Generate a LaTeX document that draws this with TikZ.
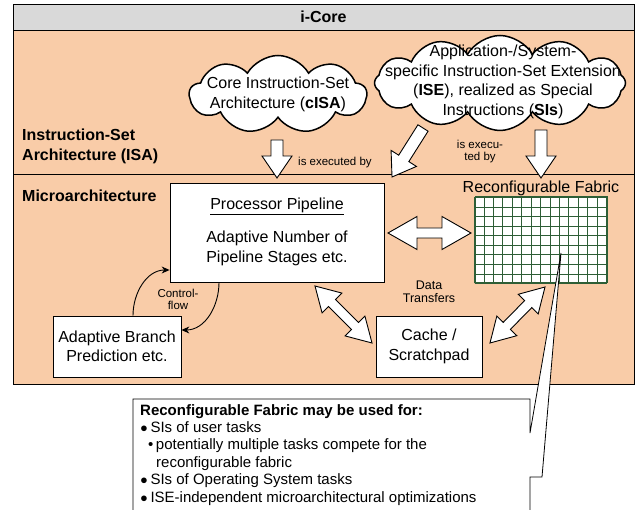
\documentclass[tikz,border=0pt]{standalone}
\usepackage{fontspec}
\setmainfont{Liberation Sans}
\usepackage{tikz}
\usetikzlibrary{positioning,arrows.meta,shapes.symbols,calc}
\definecolor{peach}{HTML}{F9CCA8}
\definecolor{hdrgray}{HTML}{D9D9D9}
\definecolor{gridgreen}{HTML}{2E5E36}
% outlined block arrow, tail #1 -> tip #2
\newcommand{\blkarrow}[2]{%
  \coordinate (bh) at ($(#2)!22pt!(#1)$);
  \draw[blk] ($(#1)!6pt!90:(#2)$) -- ($(bh)!6pt!90:(#2)$)
    -- ($(bh)!15pt!90:(#2)$) -- (#2) -- ($(bh)!15pt!-90:(#2)$)
    -- ($(bh)!6pt!-90:(#2)$) -- ($(#1)!6pt!-90:(#2)$) -- cycle;}
% outlined double block arrow #1 <-> #2 (head length, head half width, shaft half width)
\newcommand{\dblarrow}[5]{%
  \coordinate (ha) at ($(#1)!#3pt!(#2)$);
  \coordinate (hb) at ($(#2)!#3pt!(#1)$);
  \draw[blk] (#1) -- ($(ha)!#4pt!90:(#2)$) -- ($(ha)!#5pt!90:(#2)$)
    -- ($(hb)!#5pt!-90:(#1)$) -- ($(hb)!#4pt!-90:(#1)$) -- (#2)
    -- ($(hb)!#4pt!90:(#1)$) -- ($(hb)!#5pt!90:(#1)$)
    -- ($(ha)!#5pt!-90:(#2)$) -- ($(ha)!#4pt!-90:(#2)$) -- cycle;}
\newcommand{\bigdot}{{\fontsize{13}{13}\selectfont●}}
\begin{document}
\begin{tikzpicture}[x=1pt,y=1pt,font=\fontsize{16}{19.5}\selectfont,
  every node/.style={inner sep=0pt},
  box/.style={draw,line width=0.8pt,fill=white},
  blk/.style={draw,line width=0.9pt,fill=white,line join=miter},
  bubble/.style={cloud,draw,line width=1.5pt,fill=white,cloud ignores aspect,cloud puff arc=120},
  cf/.style={-{Stealth[length=8pt,width=7pt]},line width=0.9pt},
  small/.style={font=\fontsize{11.5}{12}\selectfont},
  bhead/.style={font=\fontsize{16}{19.5}\selectfont\bfseries}]
\clip (0,0) rectangle (637,-510);
\fill[white] (0,0) rectangle (637,-510);
% ---- i-Core frame: header, ISA layer, microarchitecture layer ----
\draw[line width=0.8pt,fill=hdrgray] (13,-4) rectangle (634,-30);
\draw[line width=0.8pt,fill=peach] (13,-30) rectangle (634,-174);
\draw[line width=0.8pt,fill=peach] (13,-174) rectangle (634,-384);
\node[bhead] (icore) at (323.5,-17) {i-Core};
\node[bhead,anchor=west,align=left] (isa) at (22,-146.5) {Instruction-Set\\Architecture (ISA)};
\node[bhead,anchor=west] (uarch) at (22,-196) {Microarchitecture};
% ---- instruction sets (clouds) ----
\node[bubble,cloud puffs=9,minimum width=177,minimum height=78] (cisa) at (278,-94.5) {};
\node[align=center] (cisatxt) at (cisa) {Core Instruction-Set\\Architecture (\textbf{cISA})};
\node[bubble,cloud puffs=12,minimum width=251,minimum height=95] (ise) at (500,-83) {};
\node[align=center] (isetxt) at (503,-82) {Application-/System-\\specific Instruction-Set Extension\\(\textbf{ISE}), realized as Special\\Instructions (\textbf{SIs})};
% ---- "is executed by" arrows ----
\coordinate (a1t) at (277,-140); \coordinate (a1h) at (277,-178);
\coordinate (a2t) at (423,-128); \coordinate (a2h) at (392,-177);
\coordinate (a3t) at (541,-130); \coordinate (a3h) at (541,-178);
\blkarrow{a1t}{a1h}
\blkarrow{a2t}{a2h}
\blkarrow{a3t}{a3h}
\node[small,anchor=west] (exec1) at (298,-163) {is executed by};
\node[small,align=center] (exec2) at (480,-152) {is execu-\\ted by};
% ---- microarchitecture blocks ----
\node[box,minimum width=214,minimum height=99] (pipe) at (277,-232.5) {};
\node (pipettl) at (277,-206) {\underline{Processor Pipeline}};
\node[align=center] (pipetxt) at (277,-248.5) {Adaptive Number of\\Pipeline Stages etc.};
\node (fablbl) at (541,-188) {Reconfigurable Fabric};
\node[draw=gridgreen,fill=white,line width=1pt,minimum width=132,minimum height=86] (fabric) at (541,-240) {};
\draw[gridgreen,line width=0.7pt,xstep=9.42857,ystep=9.55556,shift={(fabric.south west)}] (0,0) grid (132,86);
\node[box,minimum width=106,minimum height=61,align=center] (cache) at (429,-346.5) {Cache /\\Scratchpad};
\node[box,minimum width=128,minimum height=61,align=center] (bp) at (117,-346.5) {Adaptive Branch\\Prediction etc.};
% ---- data transfers ----
\coordinate (d1a) at (388,-233); \coordinate (d1b) at (471,-233);
\coordinate (d2a) at (315,-286); \coordinate (d2b) at (372,-343);
\coordinate (d3a) at (490,-343); \coordinate (d3b) at (545,-287);
\dblarrow{d1a}{d1b}{29}{16.5}{5}
\dblarrow{d2a}{d2b}{24}{14}{5}
\dblarrow{d3a}{d3b}{24}{14}{5}
\node[font=\fontsize{12.5}{12.5}\selectfont,align=center] (dt) at (429,-292) {Data\\Transfers};
% ---- control flow ----
\draw[cf] ([xshift=16]bp.north) to[out=90,in=180] ([yshift=-37.5]pipe.west);
\draw[cf] ([xshift=-58]pipe.south) to[out=-90,in=0] ([yshift=16.5]bp.east);
\node[small,align=center] (cflow) at (178,-299) {Control-\\flow};
% ---- callout ----
\coordinate (ctip) at ([xshift=20,yshift=-13]fabric.center);
\draw[box] (133,-399) -- (530,-399) -- (530,-433) -- (ctip) -- (542,-477)
  -- (530,-477) -- (530,-520) -- (133,-520) -- cycle;
\node[anchor=north west,align=left,font=\fontsize{15}{17.4}\selectfont] (uses) at (140,-404)
  {\textbf{Reconfigurable Fabric may be used for:}\\
   \bigdot\,SIs of user tasks\\
   \hspace*{8pt}•\,potentially multiple tasks compete for the\\
   \hspace*{16pt}reconfigurable fabric\\
   \bigdot\,SIs of Operating System tasks\\
   \bigdot\,ISE-independent microarchitectural optimizations};
\end{tikzpicture}
\end{document}
